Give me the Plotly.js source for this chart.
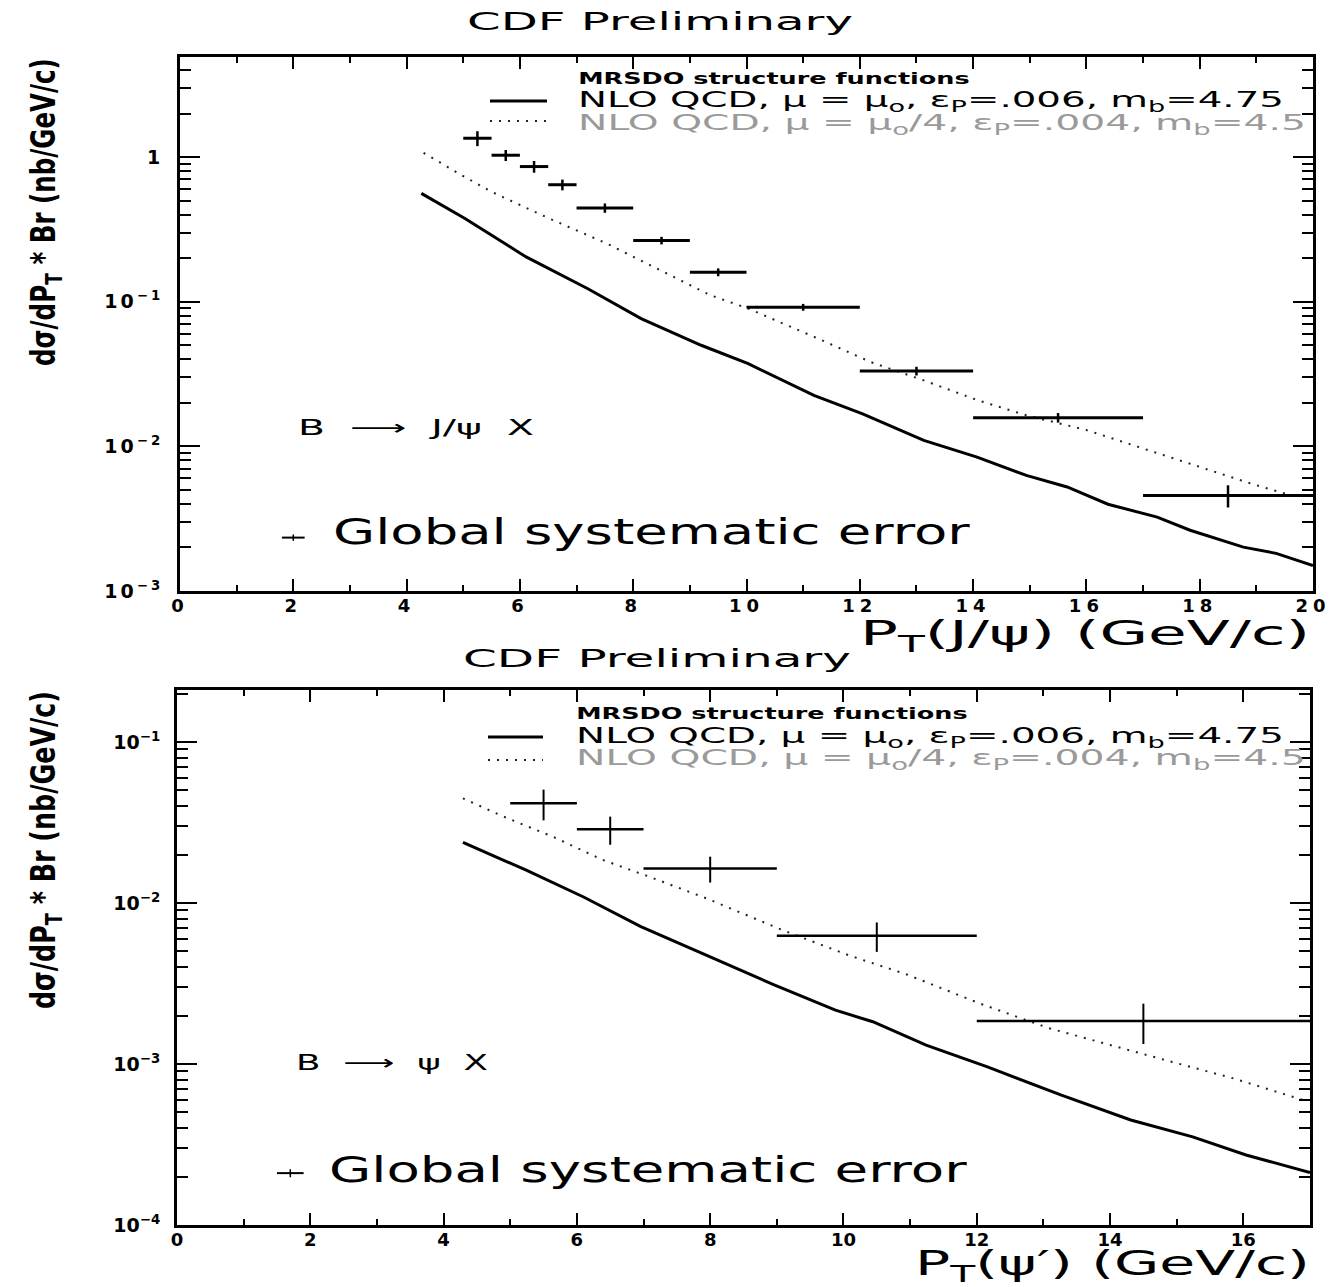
<!DOCTYPE html>
<html><head><meta charset="utf-8">
<script src="https://cdn.plot.ly/plotly-3.0.1.min.js"></script>
<style>
body{margin:0;background:#fff}
.xtick text{letter-spacing:5px}
.ytick text{letter-spacing:3px}
</style>
</head><body><div id="chart" style="width:1343px;height:1287px"></div>
<script>
// ---------- Top panel: B -> J/psi X ----------
const jpsiPt      = [5.25, 5.75, 6.25, 6.75, 7.5, 8.5, 9.5, 11, 13, 15.5, 18.5];
const jpsiHalfBin = [0.25, 0.25, 0.25, 0.25, 0.5, 0.5, 0.5, 1, 1, 1.5, 1.5];
const jpsiXsec    = [1.35, 1.03, 0.86, 0.644, 0.445, 0.265, 0.160, 0.0916, 0.0332, 0.0158, 0.00458];
const jpsiErr     = [0.16, 0.09, 0.08, 0.055, 0.033, 0.016, 0.010, 0.005, 0.0023, 0.0012, 0.0008];

const jpsiNloPt   = [4.26, 5.03, 6.11, 7.2, 8.14, 9.2, 10.03, 11.19, 12.05, 13.13, 14.07, 14.94, 15.66, 16.38, 17.25, 17.83, 18.77, 19.35, 20.0];
const jpsiNlo     = [0.561, 0.376, 0.204, 0.123, 0.0765, 0.050, 0.0373, 0.0225, 0.0168, 0.0110, 0.00843, 0.0063, 0.00524, 0.00398, 0.00324, 0.00263, 0.00201, 0.00182, 0.0015];
const jpsiNlo4Pt  = [4.3, 4.97, 5.5, 6.52, 7.53, 8.55, 9.36, 10.03, 11.33, 12.19, 13.13, 14.07, 14.94, 16.02, 17.1, 18.19, 18.91, 19.6];
const jpsiNlo4    = [1.07, 0.75, 0.575, 0.376, 0.253, 0.161, 0.111, 0.0897, 0.0542, 0.0383, 0.0286, 0.0209, 0.0164, 0.0129, 0.00938, 0.00682, 0.00552, 0.0046];

const jpsiSystPt = [2.0], jpsiSystY = [0.00234], jpsiSystHalf = [0.2], jpsiSystErr = [0.00012];

// ---------- Bottom panel: B -> psi' X ----------
const psiPt      = [5.5, 6.5, 8, 10.5, 14.5];
const psiHalfBin = [0.5, 0.5, 1, 1.5, 2.5];
const psiXsec    = [0.0416, 0.0287, 0.0164, 0.00627, 0.00185];
const psiErr     = [0.009, 0.0057, 0.003, 0.0013, 0.00052];

const psiNloPt   = [4.29, 5.24, 6.1, 6.96, 7.94, 8.96, 9.88, 10.44, 11.24, 12.16, 13.27, 14.31, 15.24, 16.04, 17.0];
const psiNlo     = [0.0238, 0.016, 0.0109, 0.00713, 0.00475, 0.0031, 0.00216, 0.00183, 0.00131, 0.00096, 0.00064, 0.000449, 0.000353, 0.000272, 0.000212];
const psiNlo4Pt  = [4.29, 4.9, 5.64, 6.39, 7.08, 7.94, 9.08, 10.1, 10.95, 12.04, 13.08, 14.0, 14.93, 15.85, 16.9];
const psiNlo4    = [0.0447, 0.0344, 0.0258, 0.0185, 0.0146, 0.0107, 0.0068, 0.0047, 0.0036, 0.00238, 0.00167, 0.00131, 0.00103, 0.000814, 0.000597];

const psiSystPt = [1.7], psiSystY = [0.00021], psiSystHalf = [0.2], psiSystErr = [0.000012];

// tick labels
const xTicksTop = [0,2,4,6,8,10,12,14,16,18,20];
const xTicksBot = [0,2,4,6,8,10,12,14,16];
const yTicksTop = [0.001, 0.01, 0.1, 1];
const yTextTop  = ['10<sup>−3</sup>', '10<sup>−2</sup>', '10<sup>−1</sup>', '1'];
const yTicksBot = [0.0001, 0.001, 0.01, 0.1];
const yTextBot  = ['10<sup>−4</sup>', '10<sup>−3</sup>', '10<sup>−2</sup>', '10<sup>−1</sup>'];

const legHeader = 'MRSDO structure functions';
const legLine1  = 'NLO QCD, μ = μ<sub>o</sub>, ε<sub>P</sub>=.006, m<sub>b</sub>=4.75';
const legLine2  = 'NLO QCD, μ = μ<sub>o</sub>/4, ε<sub>P</sub>=.004, m<sub>b</sub>=4.5';

// ---------- geometry ----------
const W = 1343, H = 1287;
const px = x => x / W, py = y => 1 - y / H;
const FONT = 'DejaVu Sans, Verdana, sans-serif';
const DOTS = '2px,7px';

function dataTrace(x, y, hx, ey, xa, ya, th) {
  return {type:'scatter', mode:'markers', x:x, y:y, xaxis:xa, yaxis:ya, showlegend:false,
    marker:{size:2, color:'black'},
    error_x:{type:'data', array:hx, width:0, thickness:th, color:'black'},
    error_y:{type:'data', array:ey, width:0, thickness:th-0.5, color:'black'}};
}
function lineTrace(x, y, xa, ya, dash, w, c) {
  return {type:'scatter', mode:'lines', x:x, y:y, xaxis:xa, yaxis:ya, showlegend:false,
    line:{color:c, width:w, dash:dash}};
}

const traces = [
  lineTrace(jpsiNloPt, jpsiNlo, 'x', 'y', 'solid', 3, 'black'),
  lineTrace(jpsiNlo4Pt, jpsiNlo4, 'x', 'y', DOTS, 2, '#222'),
  dataTrace(jpsiPt, jpsiXsec, jpsiHalfBin, jpsiErr, 'x', 'y', 3),
  dataTrace(jpsiSystPt, jpsiSystY, jpsiSystHalf, jpsiSystErr, 'x', 'y', 2),
  lineTrace(psiNloPt, psiNlo, 'x2', 'y2', 'solid', 3, 'black'),
  lineTrace(psiNlo4Pt, psiNlo4, 'x2', 'y2', DOTS, 2, '#222'),
  dataTrace(psiPt, psiXsec, psiHalfBin, psiErr, 'x2', 'y2', 2.5),
  dataTrace(psiSystPt, psiSystY, psiSystHalf, psiSystErr, 'x2', 'y2', 2)
];

function xAxis(domain, range, tv, anchor) {
  return {domain:domain, range:range, anchor:anchor, tickmode:'array', tickvals:tv,
    ticks:'inside', ticklen:12, tickwidth:2, tickcolor:'black',
    minor:{ticks:'inside', dtick:1, ticklen:6, tickwidth:2, tickcolor:'black'},
    showline:true, linewidth:3, linecolor:'black', mirror:'allticks',
    showgrid:false, zeroline:false, ticklabelstandoff:-4,
    tickfont:{family:FONT, size:18, color:'black', weight:'bold'}};
}
function yAxis(domain, range, tv, tt, anchor) {
  return {domain:domain, type:'log', range:range, anchor:anchor, tickmode:'array', tickvals:tv, ticktext:tt,
    ticks:'inside', ticklen:20, tickwidth:2, tickcolor:'black',
    minor:{ticks:'inside', dtick:'D1', ticklen:11, tickwidth:2, tickcolor:'black'},
    showline:true, linewidth:3, linecolor:'black', mirror:'allticks',
    showgrid:false, zeroline:false, ticklabelstandoff:10,
    tickfont:{family:FONT, size:19, color:'black', weight:'bold'}};
}

function ann(text, x, y, size, opts) {
  return Object.assign({text:text, xref:'paper', yref:'paper', x:px(x), y:py(y), showarrow:false,
    xanchor:'center', yanchor:'middle', font:{family:FONT, size:size, color:'black'}}, opts || {});
}

const YTITLE = 'dσ/dP<sub>T</sub> * Br (nb/GeV/c)';
const NARROW = 'Liberation Sans Narrow, DejaVu Sans Condensed, Arial Narrow, DejaVu Sans, sans-serif';
const GRAY = '#9a9a9a';

const annotations = [
  ann('CDF Preliminary', 660, 22, 24),                       // 0
  ann('CDF Preliminary', 657, 659, 24),                      // 1
  ann(YTITLE, 45, 212, 34, {textangle:-90, font:{family:NARROW, size:34, color:'black', weight:'bold'}}),  // 2
  ann(YTITLE, 45, 850, 34, {textangle:-90, font:{family:NARROW, size:34, color:'black', weight:'bold'}}),  // 3
  ann('P<sub>T</sub>(J/ψ) (GeV/c)', 1085, 636, 33),           // 4
  ann('P<sub>T</sub>(ψ′) (GeV/c)', 1112, 1265, 33),           // 5
  ann('B  ⟶  J/ψ  X', 416, 428, 21),                         // 6
  ann('B  ⟶  ψ  X', 392, 1063, 21),                          // 7
  ann('Global systematic error', 651, 531, 36),              // 8
  ann('Global systematic error', 648, 1169, 36),             // 9
  ann(legHeader, 774, 79, 15, {font:{family:FONT, size:15, color:'black', weight:'bold'}}),   // 10
  ann(legLine1, 931, 102, 22),                                // 11
  ann(legLine2, 941, 124, 22, {font:{family:FONT, size:22, color:GRAY}}),   // 12
  ann(legHeader, 772, 714, 15, {font:{family:FONT, size:15, color:'black', weight:'bold'}}),  // 13
  ann(legLine1, 930, 737, 22),                                // 14
  ann(legLine2, 940, 760, 22, {font:{family:FONT, size:22, color:GRAY}})    // 15
];
// horizontal extent [left, right] (px) each text spans in the reference's wide lettering
const textSpan = [
  [467, 853], [463, 851], null, null, [860, 1310], [915, 1310],
  [298, 534], [296, 488], [333, 970], [329, 967],
  [578, 970], [578, 1284], [578, 1306], [576, 968], [576, 1284], [576, 1306]
];
// length along the rotated axis titles
const rotatedLen = {2: 308, 3: 318};

const shapes = [
  {type:'line', xref:'paper', yref:'paper', x0:px(490), x1:px(547), y0:py(101), y1:py(101), line:{color:'black', width:3}},
  {type:'line', xref:'paper', yref:'paper', x0:px(490), x1:px(547), y0:py(121), y1:py(121), line:{color:'#222', width:2, dash:DOTS}},
  {type:'line', xref:'paper', yref:'paper', x0:px(488), x1:px(543), y0:py(737), y1:py(737), line:{color:'black', width:3}},
  {type:'line', xref:'paper', yref:'paper', x0:px(488), x1:px(543), y0:py(760), y1:py(760), line:{color:'#222', width:2, dash:DOTS}}
];

const layout = {
  width:W, height:H, margin:{l:0, r:0, t:0, b:0},
  paper_bgcolor:'white', plot_bgcolor:'white', showlegend:false,
  xaxis: xAxis([px(180), px(1313)], [0, 20], xTicksTop, 'y'),
  yaxis: yAxis([py(591), py(57)], [-3, 0.692], yTicksTop, yTextTop, 'x'),
  xaxis2: xAxis([px(177), px(1310)], [0, 17], xTicksBot, 'y2'),
  yaxis2: yAxis([py(1225), py(690)], [-4, -0.677], yTicksBot, yTextBot, 'x2'),
  annotations: annotations,
  shapes: shapes
};

Plotly.newPlot('chart', traces, layout, {displayModeBar:false, staticPlot:true}).then(function () {
  document.querySelectorAll('#chart .annotation').forEach(function (g) {
    const i = +g.getAttribute('data-index');
    const t = g.querySelector('text.annotation-text');
    if (!t) return;
    const bb = t.getBBox();
    if (textSpan[i]) {
      const r = t.getBoundingClientRect();
      const s = (textSpan[i][1] - textSpan[i][0]) / r.width;
      const dx = textSpan[i][0] - r.left;
      t.setAttribute('transform', 'translate(' + (bb.x + dx) + ' 0) scale(' + s + ' 1) translate(' + (-bb.x) + ' 0)');
    } else if (rotatedLen[i]) {
      const s = rotatedLen[i] / bb.width;
      const cx = bb.x + bb.width / 2;
      t.setAttribute('transform', 'translate(' + cx + ' 0) scale(' + s + ' 1) translate(' + (-cx) + ' 0)');
    }
  });
});
</script>
</body></html>
